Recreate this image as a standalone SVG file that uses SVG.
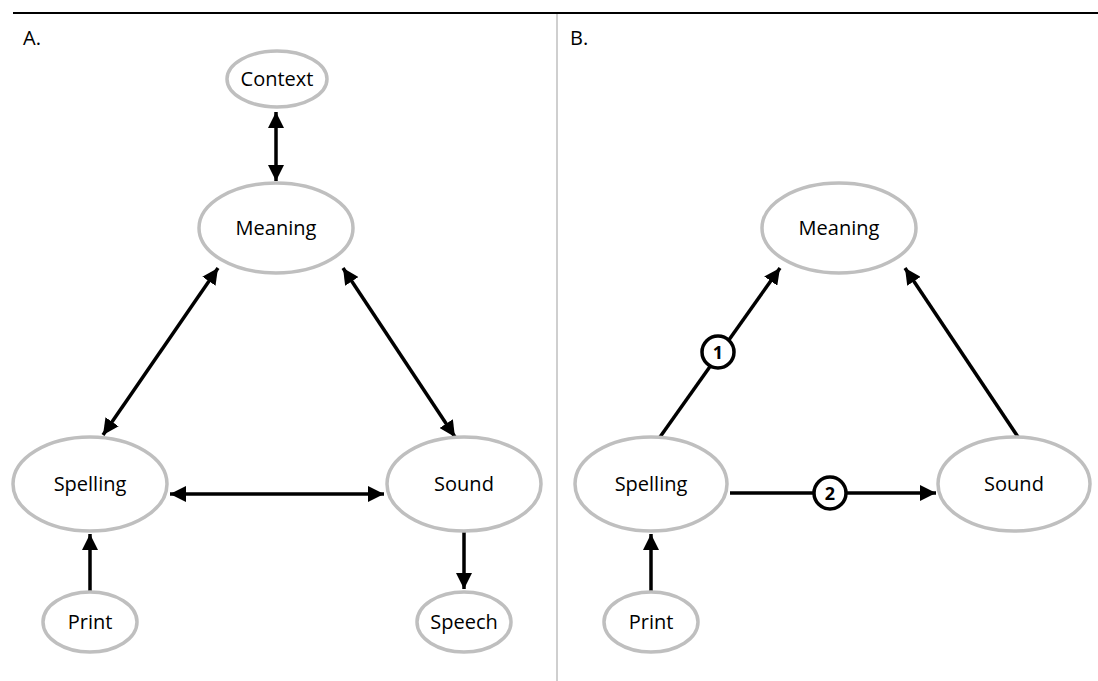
<svg xmlns="http://www.w3.org/2000/svg" width="1098" height="681" viewBox="0 0 1098 681">
<style>
.n{fill:#fff;stroke:#bfbfbf;stroke-width:3.5}
.t{font-family:"Open Sans","Liberation Sans",sans-serif;font-size:20px;fill:#000;text-anchor:middle}
.c{stroke:#000;stroke-width:3.5;fill:none}
.b{fill:#fff;stroke:#000;stroke-width:3.5}
.bt{font-family:"Open Sans","Liberation Sans",sans-serif;font-size:18px;font-weight:bold;text-anchor:middle}
</style>
<defs>
<marker id="ah" viewBox="0 0 10 10" refX="10" refY="5" markerWidth="16" markerHeight="16" markerUnits="userSpaceOnUse" orient="auto-start-reverse">
<path d="M0,0L10,5L0,10z" fill="#000"/>
</marker>
</defs>
<rect width="1098" height="681" fill="#fff"/>
<line x1="13" y1="13" x2="1098" y2="13" stroke="#000" stroke-width="2"/>
<line x1="557" y1="14" x2="557" y2="681" stroke="#bfbfbf" stroke-width="1.5"/>
<text x="23" y="45" class="t" style="text-anchor:start">A.</text>
<text x="570" y="45" class="t" style="text-anchor:start">B.</text>
<g id="connectors">
<line class="c" x1="276" y1="112" x2="276" y2="181" marker-start="url(#ah)" marker-end="url(#ah)"/>
<line class="c" x1="218" y1="268" x2="103" y2="435" marker-start="url(#ah)" marker-end="url(#ah)"/>
<line class="c" x1="343" y1="268" x2="455" y2="437" marker-start="url(#ah)" marker-end="url(#ah)"/>
<line class="c" x1="170" y1="494" x2="384" y2="494" marker-start="url(#ah)" marker-end="url(#ah)"/>
<line class="c" x1="464" y1="532" x2="464" y2="589" marker-end="url(#ah)"/>
<line class="c" x1="90" y1="591" x2="90" y2="534" marker-end="url(#ah)"/>
<line class="c" x1="660" y1="437" x2="780" y2="268" marker-end="url(#ah)"/>
<line class="c" x1="1018" y1="437" x2="905" y2="268" marker-end="url(#ah)"/>
<line class="c" x1="730" y1="493" x2="936" y2="493" marker-end="url(#ah)"/>
<line class="c" x1="651" y1="591" x2="651" y2="534" marker-end="url(#ah)"/>
<circle class="b" cx="718" cy="352" r="16"/>
<text class="bt" x="718" y="358.5">1</text>
<circle class="b" cx="830" cy="493" r="16"/>
<text class="bt" x="830" y="499.5">2</text>
</g>
<g id="a-context"><ellipse class="n" cx="277" cy="79" rx="50" ry="28"/><text class="t" x="277" y="86">Context</text></g>
<g id="a-meaning"><ellipse class="n" cx="276" cy="228" rx="77" ry="45"/><text class="t" x="276" y="235">Meaning</text></g>
<g id="a-spelling"><ellipse class="n" cx="90" cy="484" rx="77" ry="47"/><text class="t" x="90" y="491">Spelling</text></g>
<g id="a-sound"><ellipse class="n" cx="464" cy="484" rx="77" ry="47"/><text class="t" x="464" y="491">Sound</text></g>
<g id="a-print"><ellipse class="n" cx="90" cy="622" rx="47" ry="30"/><text class="t" x="90" y="629">Print</text></g>
<g id="a-speech"><ellipse class="n" cx="464" cy="622" rx="47" ry="30"/><text class="t" x="464" y="629">Speech</text></g>
<g id="b-meaning"><ellipse class="n" cx="839" cy="228" rx="77" ry="45"/><text class="t" x="839" y="235">Meaning</text></g>
<g id="b-spelling"><ellipse class="n" cx="651" cy="484" rx="76" ry="47"/><text class="t" x="651" y="491">Spelling</text></g>
<g id="b-sound"><ellipse class="n" cx="1014" cy="484" rx="76" ry="47"/><text class="t" x="1014" y="491">Sound</text></g>
<g id="b-print"><ellipse class="n" cx="651" cy="622" rx="47" ry="30"/><text class="t" x="651" y="629">Print</text></g>
</svg>
